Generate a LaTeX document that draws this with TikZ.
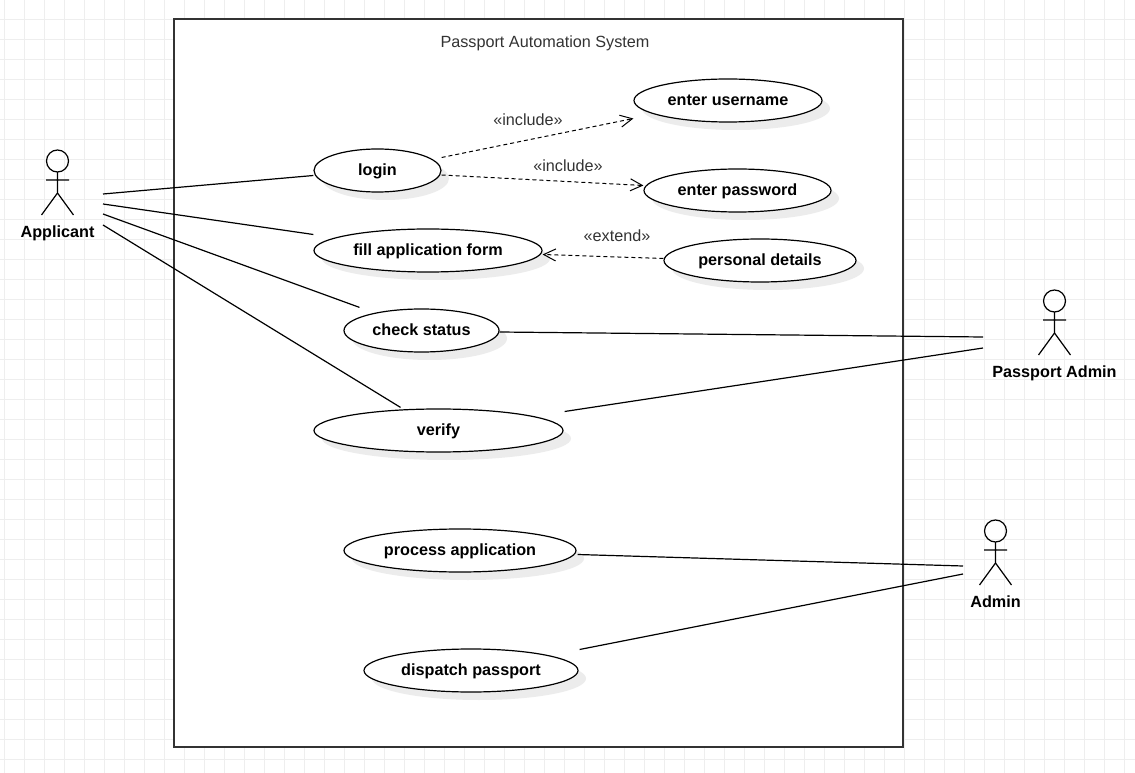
\documentclass[tikz,border=0pt]{standalone}
\usepackage{fontspec}
\setmainfont{Liberation Sans}
\usetikzlibrary{shapes.geometric,shadows,arrows.meta,calc}
\definecolor{gridgray}{RGB}{238,238,238}
\definecolor{framegray}{RGB}{51,51,51}
\definecolor{shadowgray}{RGB}{236,236,236}

\tikzset{every picture/.style={line width=0.75pt}}
\tikzset{
  usecase/.style={ellipse,draw=black,fill=white,line width=0.9pt,inner sep=0pt,minimum height=32.25pt,
    text height=9.5pt,text depth=1.9pt,
    font=\fontsize{12.15}{14}\selectfont\bfseries,drop shadow={shadow xshift=6pt,shadow yshift=-6pt,fill=shadowgray,opacity=1}},
  actorname/.style={text height=9.5pt,text depth=1.9pt,font=\fontsize{12.15}{14}\selectfont\bfseries},
  stereotype/.style={text=framegray,text height=9.5pt,text depth=1.9pt,font=\fontsize{12.15}{14}\selectfont},
  assoc/.style={draw=black,line width=0.9pt},
  depend/.style={draw=black,line width=0.75pt,dash pattern=on 3pt off 2.25pt,-{Straight Barb[length=9pt,width=9pt]}},
  stickman/.pic={
    \draw[line width=0.9pt] (0,0) circle (11);
    \draw[line width=0.9pt] (0,-11) -- (0,-32) (-11.5,-19) -- (11.5,-19) (-16,-54) -- (0,-32) -- (16,-54);
  }
}

\begin{document}
\begin{tikzpicture}[x=0.75pt,y=0.75pt,yscale=-1,xscale=1]
\useasboundingbox (0,0) rectangle (1135,773);

%Background grid
\foreach \gx in {4.5,24.5,...,1124.5} \draw[gridgray,line width=0.75pt] (\gx,0) -- (\gx,773);
\foreach \gy in {19.5,39.5,...,759.5} \draw[gridgray,line width=0.75pt] (0,\gy) -- (1135,\gy);

%Shape: Rectangle
\draw[draw=framegray,fill=white,line width=1.2pt] (174,19) rectangle (903,747);

% Text Node
\node[stereotype] (systemname) at (545,42) {Passport Automation System};

%Use cases
\node[usecase,minimum width=95.25pt] (login) at (377.5,170.5) {login};
\node[usecase,minimum width=171pt] (fillform) at (428,250.5) {fill application form};
\node[usecase,minimum width=116.25pt] (checkstatus) at (421.5,330.5) {check status};
\node[usecase,minimum width=186.75pt] (verify) at (438.5,430.5) {verify};
\node[usecase,minimum width=174pt] (process) at (460,550.5) {process application};
\node[usecase,minimum width=160.5pt] (dispatch) at (471,670.5) {dispatch passport};
\node[usecase,minimum width=141pt] (username) at (728,100.5) {enter username};
\node[usecase,minimum width=140.25pt] (password) at (737.5,190.5) {enter password};
\node[usecase,minimum width=144pt] (personal) at (760,260.5) {personal details};

%Actors
\pic at (57.5,161) {stickman};
\node[actorname] (applicant) at (57.5,232) {Applicant};
\pic at (1054.5,301) {stickman};
\node[actorname] (passportadmin) at (1054.5,372) {Passport Admin};
\pic at (995.5,531) {stickman};
\node[actorname] (admin) at (995.5,602) {Admin};

%Straight Lines
\draw[assoc] ($(applicant)+(45.5,-38)$) -- ($(login.west)+(0,5)$);
\draw[assoc] ($(applicant)+(45.5,-28)$) -- ($(fillform.west)+(0,-16)$);
\draw[assoc] ($(applicant)+(45.5,-18)$) -- ($(checkstatus.north)+(-62,-1)$);
\draw[assoc] ($(applicant)+(45.5,-7)$) -- ($(verify.north)+(-38,-1)$);
\draw[assoc] ($(checkstatus.east)+(0,1.5)$) -- ($(passportadmin)+(-71.5,-35)$);
\draw[assoc] ($(verify.east)+(1,-19)$) -- ($(passportadmin)+(-71.5,-24)$);
\draw[assoc] ($(process.east)+(1,4)$) -- ($(admin)+(-32.5,-36)$);
\draw[assoc] ($(dispatch.east)+(1,-21)$) -- ($(admin)+(-32.5,-28)$);

%Dashed dependencies
\draw[depend] ($(login.east)+(0,-13)$) -- ($(username.west)+(0,18)$);
\draw[depend] ($(login.east)+(0,4.5)$) -- ($(password.west)+(0,-5)$);
\draw[depend] ($(personal.west)+(0,-2)$) -- ($(fillform.east)+(0,4)$);

% Text Node
\node[stereotype] (includeone) at (528,120) {«include»};
% Text Node
\node[stereotype] (includetwo) at (568,166) {«include»};
% Text Node
\node[stereotype] (extendone) at (617,236) {«extend»};

\end{tikzpicture}
\end{document}
